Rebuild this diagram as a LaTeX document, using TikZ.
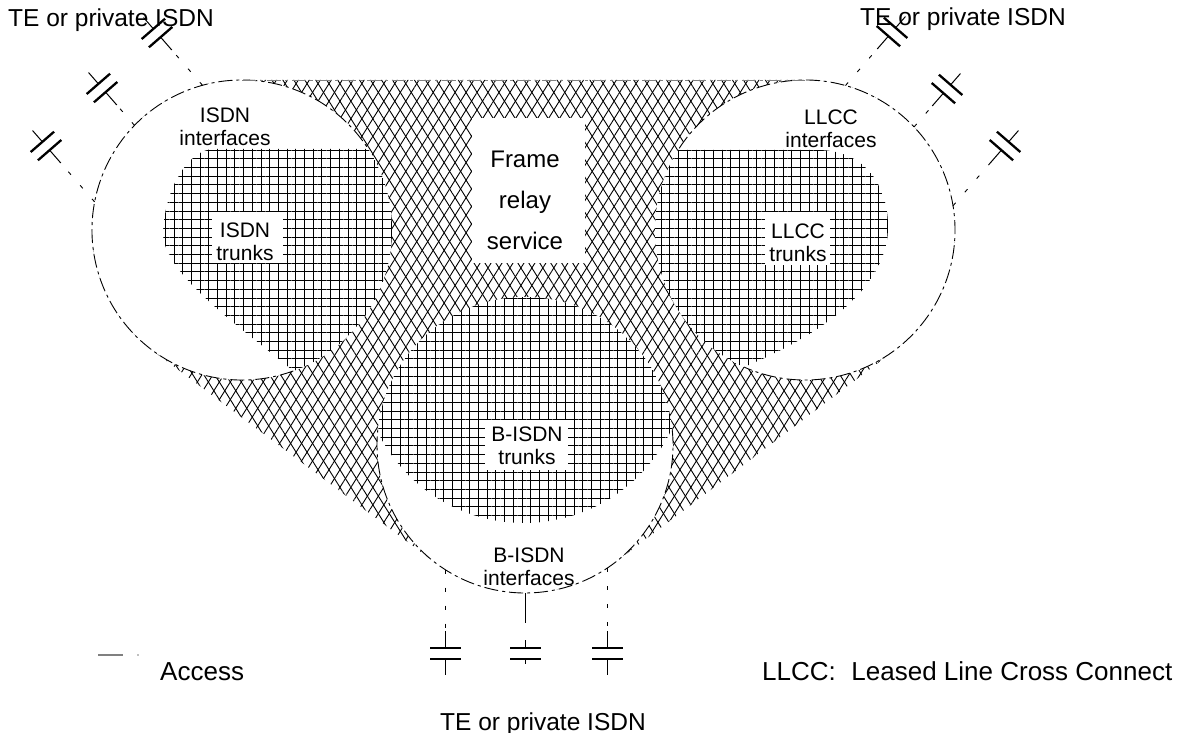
\documentclass[tikz,border=0pt]{standalone}
\usepackage{fontspec}
\setmainfont{Liberation Sans}
\usetikzlibrary{patterns.meta}
\tikzset{
  hatchfill/.style={pattern={Lines[angle=58,distance=9.3pt,line width=0.9pt]},
     preaction={pattern={Lines[angle=-58,distance=9.3pt,line width=0.9pt]}}},
  gridfill/.style={pattern={Lines[angle=0,distance=8.7pt,line width=0.9pt]},
     preaction={pattern={Lines[angle=90,distance=8.7pt,line width=0.9pt]}}},
  rim/.style={draw=black, line width=0.9pt, dash pattern=on 14pt off 4pt on 3pt off 4pt},
  accessline/.style={draw=black, line width=0.9pt, dash pattern=on 4pt off 14pt},
  stub/.style={line width=1pt},
  plate/.style={line width=2.3pt},
  biglbl/.style={font=\fontsize{24.5}{28}\selectfont, inner sep=0pt},
  legendlbl/.style={font=\fontsize{26}{30}\selectfont, inner sep=0pt},
  framelbl/.style={font=\fontsize{24}{41}\selectfont, align=center, inner sep=0pt},
  smalllbl/.style={font=\fontsize{21}{23}\selectfont, align=center, inner sep=0pt},
}
\newcommand{\accesssym}[5]{%
  \begin{scope}[shift={#2},rotate=#3]
    \coordinate (#1-in) at (-#4-5.5,0);
    \draw[stub] (-#4-5.5,0) -- (-5.5,0);
    \draw[plate] (-5.5,-15.5) -- (-5.5,15.5);
    \draw[plate] (5.5,-15.5) -- (5.5,15.5);
    \draw[stub] (5.5,0) -- (#5+5.5,0);
  \end{scope}}
\begin{document}
\begin{tikzpicture}[x=1pt,y=-1pt]
\useasboundingbox (0,0) rectangle (1183,733);
\fill[white] (0,0) rectangle (1183,733);
\coordinate (L) at (242,230);
\coordinate (R) at (805,230);
\coordinate (B) at (525,445);
\coordinate (CB) at (524,360);

% frame relay region (hull)
\path[hatchfill] (242,80) -- (805,80) arc[start angle=-90,end angle=52.5,radius=150]
  -- (615.1,562.4) arc[start angle=52.5,end angle=127.2,radius=148]
  -- (151.3,349.5) arc[start angle=127.2,end angle=270,radius=150] -- cycle;

% interface circles
\fill[white] (L) circle[radius=150];
\fill[white] (R) circle[radius=150];
\fill[white] (B) circle[radius=148];

% trunks
\begin{scope}
  \clip (L) circle[radius=150];
  \path[gridfill] (213,149) -- (440,149) -- (440,330) -- (330,440) -- (293.3,371)
     .. controls (245,330) and (163,275) .. (163,233)
     .. controls (165,185) and (190,150) .. (213,149) -- cycle;
\end{scope}
\begin{scope}
  \clip (R) circle[radius=150];
  \path[gridfill] (600,150) -- (817,150) .. controls (865,150) and (888,185) .. (888,227)
     .. controls (888,275) and (845,325) .. (744,367) -- (700,440) -- (600,440) -- cycle;
\end{scope}
\begin{scope}
  \clip (B) circle[radius=148];
  \path[gridfill] (CB) circle[radius=163];
\end{scope}

% rims
\draw[rim] (L) ++(70:150) arc[start angle=70,end angle=327,radius=150];
\draw[rim] (R) ++(213:150) arc[start angle=213,end angle=474,radius=150];
\draw[rim] (B) ++(-6:148) arc[start angle=-6,end angle=186,radius=148];
\draw[rim, draw=gray] (242,80) -- (805,80);

% boxes and labels
\fill[white] (472,118) rectangle (585,263);
\node[framelbl] (fr) at (525,200) {Frame\\relay\\service};
\fill[white] (212,212) rectangle (283,263);
\node[smalllbl] (isdntr) at (245,242) {ISDN\\trunks};
\fill[white] (765,212) rectangle (830,265);
\node[smalllbl] (llcctr) at (798,243) {LLCC\\trunks};
\fill[white] (485,420) rectangle (568,470);
\node[smalllbl] (bisdntr) at (527,446) {B-ISDN\\trunks};
\node[smalllbl] (isdnif) at (225,127) {ISDN\\interfaces};
\node[smalllbl] (llccif) at (831,129) {LLCC\\interfaces};
\node[smalllbl] (bisdnif) at (529,567) {B-ISDN\\interfaces};

\node[biglbl, anchor=base west] (teL) at (8,27) {TE or private ISDN};
\node[biglbl, anchor=base west] (teR) at (860,26) {TE or private ISDN};
\node[biglbl, anchor=base west] (teB) at (440,730) {TE or private ISDN};

% access symbols and lines
\coordinate (pL1) at (202.5,85.3);
\coordinate (pL2) at (134.5,125.4);
\coordinate (pL3) at (94.6,201.9);
\coordinate (pR1) at (845.5,85.5);
\coordinate (pR2) at (914,127);
\coordinate (pR3) at (953,205.8);
\coordinate (pB1) at (445,569.5);
\coordinate (pB2) at (525,593);
\coordinate (pB3) at (607,568);
\coordinate (gB2) at (525,623);

\accesssym{aL1}{(157,33)}{131}{17}{15}
\accesssym{aL2}{(102,88)}{131}{17}{15}
\accesssym{aL3}{(46,146)}{131}{17}{15}
\accesssym{aR1}{(892,32)}{49}{17}{15}
\accesssym{aR2}{(947,89)}{49}{17}{15}
\accesssym{aR3}{(1005,146)}{49}{17}{15}
\accesssym{aB1}{(445,653.5)}{-90}{17}{16}
\accesssym{aB2}{(525,653.5)}{-90}{8}{5}
\accesssym{aB3}{(607,653.5)}{-90}{17}{16}

\draw[accessline] (pL1) -- (aL1-in);
\draw[accessline] (pL2) -- (aL2-in);
\draw[accessline] (pL3) -- (aL3-in);
\draw[accessline] (pR1) -- (aR1-in);
\draw[accessline] (pR2) -- (aR2-in);
\draw[accessline] (pR3) -- (aR3-in);
\draw[accessline] (pB1) -- (aB1-in);
\draw[accessline] (pB3) -- (aB3-in);
\draw[stub] (pB2) -- (gB2);

% legend
\draw[gray, line width=1.5pt] (98,655) -- (123,655);
\fill[gray] (138,655) circle[radius=0.8];
\node[legendlbl, anchor=base west] (acc) at (160,680) {Access};
\node[legendlbl, anchor=base west] (llccleg) at (762,680) {LLCC:\hspace{0.6em}Leased Line Cross Connect};
\end{tikzpicture}
\end{document}
